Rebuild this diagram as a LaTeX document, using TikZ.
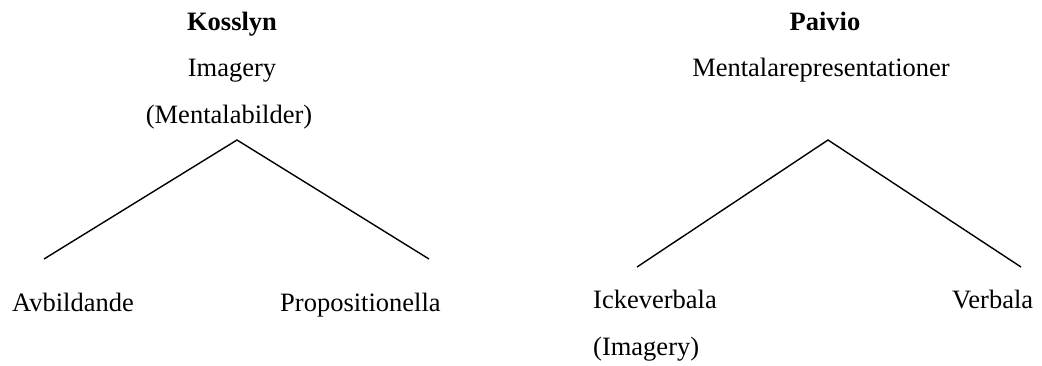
\documentclass[tikz,border=0pt]{standalone}
\usepackage{fontspec}
\setmainfont{Liberation Serif}
\begin{document}
\begin{tikzpicture}[x=1pt,y=-1pt,
    lbl/.style={inner sep=0pt,anchor=base,font=\fontsize{26.5}{30}\selectfont},
    lblw/.style={lbl,anchor=base west},
    leg/.style={line width=1.4pt}]
        \useasboundingbox (0,0) rectangle (1042,365);
        % Kosslyn: one root, two branches
        \node[lbl] (kname) at (232,30) {\bfseries Kosslyn};
        \node[lbl] (kimg) at (232,76) {Imagery};
        \node[lbl] (kment) at (229,123) {(Mentalabilder)};
        \coordinate (ktop) at (237,140);
        \coordinate (kl) at (44,259);
        \coordinate (kr) at (429,259);
        \draw[leg] (kl) -- (ktop) -- (kr);
        \node[lblw] (kavb) at (12,311) {Avbildande};
        \node[lblw] (kprop) at (280,311) {Propositionella};
        % Paivio: one root, two branches
        \node[lbl] (pname) at (825,30) {\bfseries Paivio};
        \node[lbl] (prep) at (821,76) {Mentalarepresentationer};
        \coordinate (ptop) at (828,140);
        \coordinate (pl) at (637,267);
        \coordinate (pr) at (1021,267);
        \draw[leg] (pl) -- (ptop) -- (pr);
        \node[lblw] (pick) at (593,308) {Ickeverbala};
        \node[lblw] (pimg) at (593,355) {(Imagery)};
        \node[lblw] (pverb) at (952,308) {Verbala};
      \end{tikzpicture}
\end{document}
